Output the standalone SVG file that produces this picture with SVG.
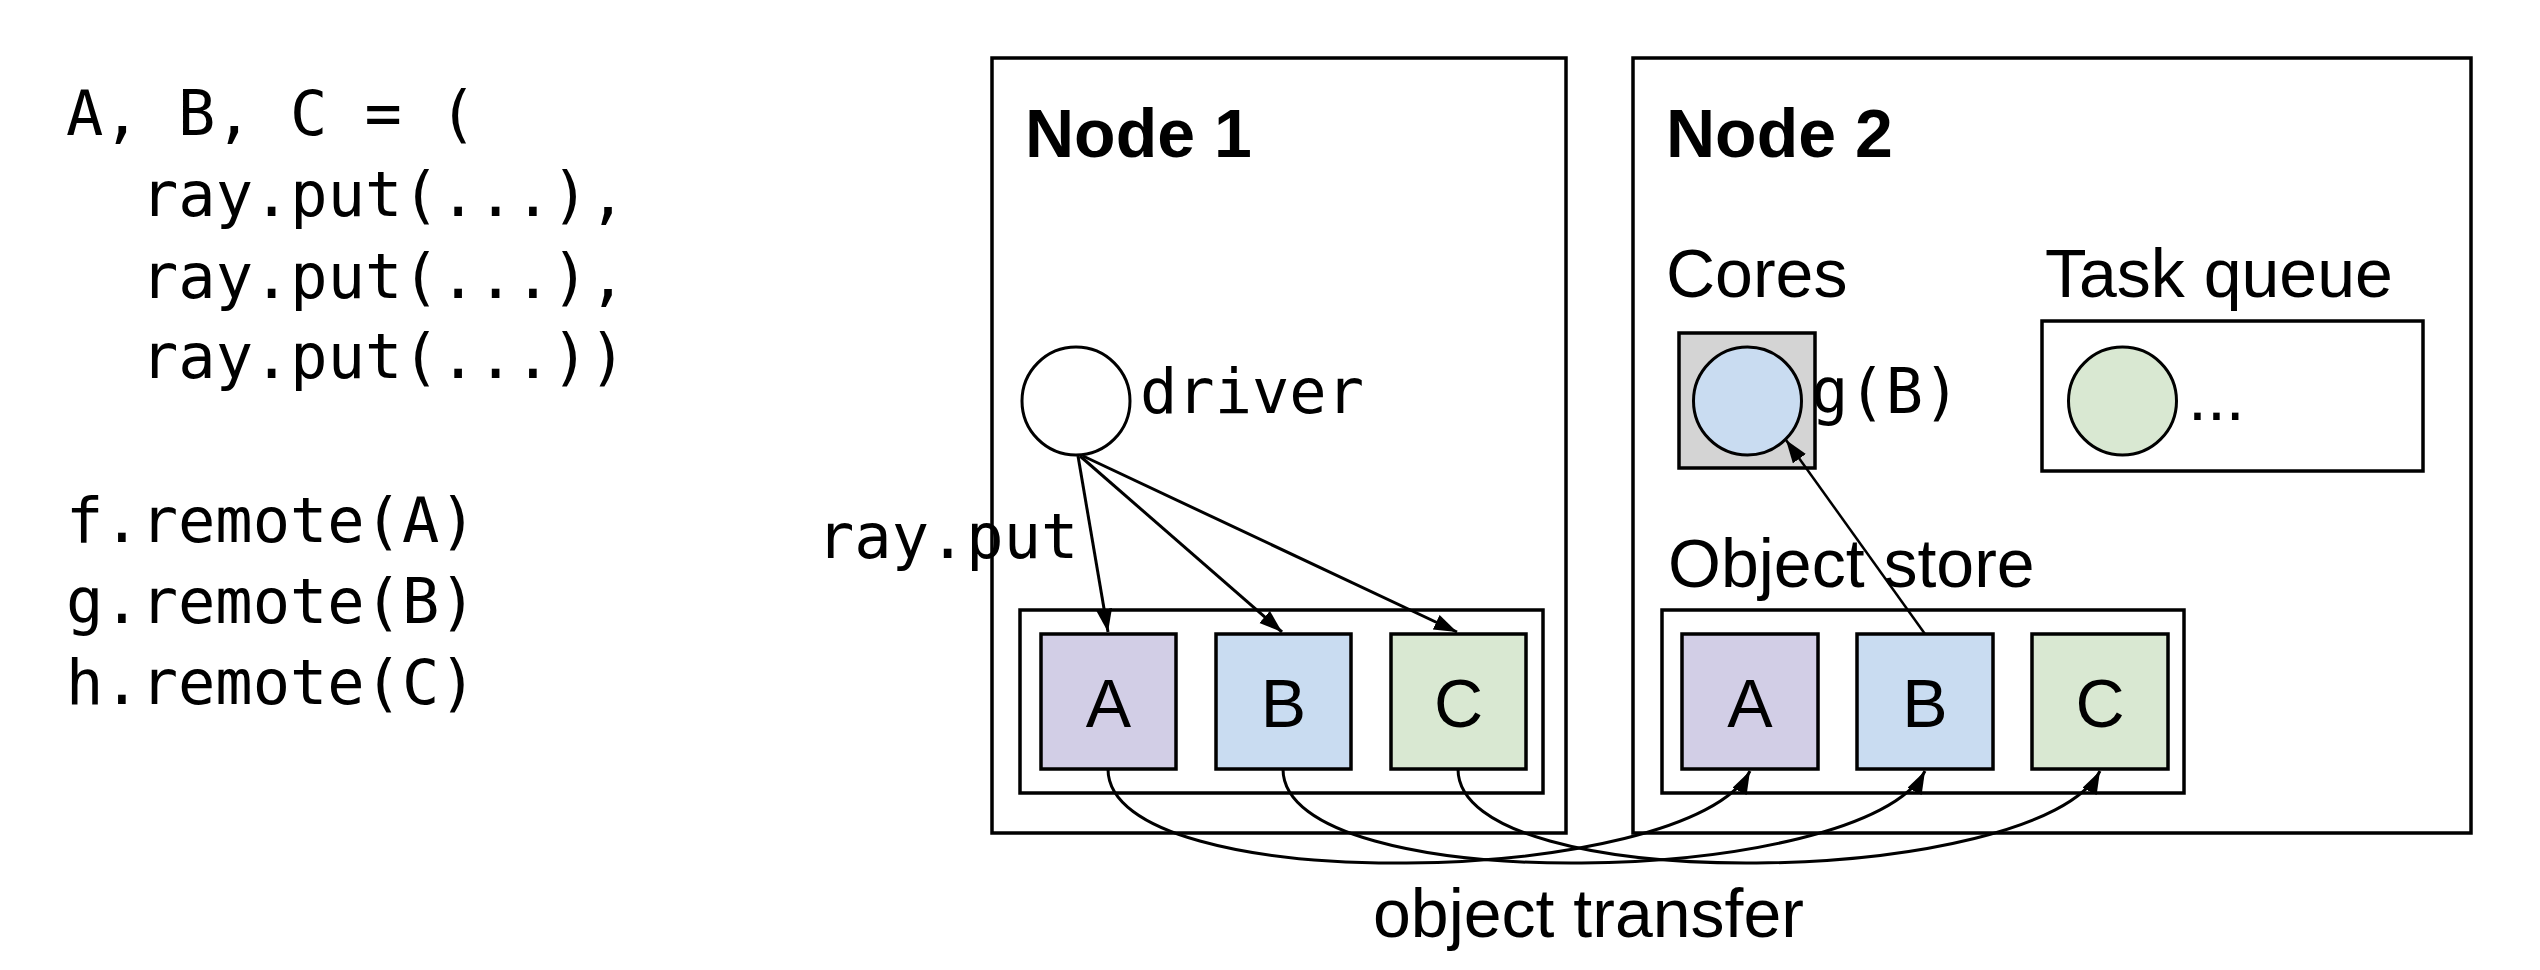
<svg xmlns="http://www.w3.org/2000/svg" width="2540" height="970" viewBox="0 0 2540 970">
<style>
.code{font-family:"DejaVu Sans Mono","Liberation Mono",monospace;font-size:62px;fill:#000}
.lbl{font-family:"Liberation Sans",Arial,sans-serif;font-size:68px;fill:#000}
.big{font-family:"Liberation Sans",Arial,sans-serif;font-size:68px;fill:#000}
.bold{font-family:"Liberation Sans",Arial,sans-serif;font-size:68px;font-weight:bold;fill:#000}
.box{fill:#fff;stroke:#000;stroke-width:3.5}
.a{fill:#d2cee6;stroke:#000;stroke-width:3.5}
.b{fill:#c9dcf1;stroke:#000;stroke-width:3.5}
.c{fill:#d9e8d2;stroke:#000;stroke-width:3.5}
.conn{fill:none;stroke:#000;stroke-width:3}
.thin{fill:none;stroke:#000;stroke-width:2.5}
</style>
<defs>
<marker id="arr" markerUnits="userSpaceOnUse" markerWidth="24" markerHeight="18" refX="23" refY="8" orient="auto">
<path d="M0,0 L23,8 L0,16 z" fill="#000"/>
</marker>
</defs>
<rect width="2540" height="970" fill="#fff"/>
<g id="code">
<text class="code" x="66" y="135">A, B, C = (</text>
<text class="code" x="141" y="216">ray.put(...),</text>
<text class="code" x="141" y="298">ray.put(...),</text>
<text class="code" x="141" y="378">ray.put(...))</text>
<text class="code" x="66" y="542">f.remote(A)</text>
<text class="code" x="66" y="623">g.remote(B)</text>
<text class="code" x="66" y="704">h.remote(C)</text>
</g>
<g id="node1">
<rect class="box" x="992" y="58" width="574" height="775"/>
<text class="bold" x="1025" y="157">Node 1</text>
</g>
<g id="driver">
<circle cx="1076" cy="401" r="54" fill="#fff" stroke="#000" stroke-width="3"/>
<text class="code" x="1140" y="413">driver</text>
</g>
<g id="rayput-label">
<text class="code" x="817" y="558">ray.put</text>
</g>
<g id="store1">
<rect class="box" x="1020" y="610" width="523" height="183"/>
<rect class="a" x="1041" y="634" width="135" height="135"/>
<rect class="b" x="1216" y="634" width="135" height="135"/>
<rect class="c" x="1391" y="634" width="135" height="135"/>
<text class="big" x="1108.5" y="727" text-anchor="middle">A</text>
<text class="big" x="1283.5" y="727" text-anchor="middle">B</text>
<text class="big" x="1458.5" y="727" text-anchor="middle">C</text>
</g>
<g id="node2">
<rect class="box" x="1633" y="58" width="838" height="775"/>
<text class="bold" x="1666" y="157">Node 2</text>
</g>
<g id="cores">
<text class="lbl" x="1666" y="297">Cores</text>
<rect x="1679" y="333" width="136" height="135" fill="#d4d4d4" stroke="#000" stroke-width="3.5"/>
<circle cx="1747.5" cy="401" r="54" fill="#c9dcf1" stroke="#000" stroke-width="3"/>
<text class="code" x="1811" y="413">g(B)</text>
</g>
<g id="taskqueue">
<text class="lbl" x="2045" y="297">Task queue</text>
<rect class="box" x="2042" y="321" width="381" height="150"/>
<circle cx="2122.5" cy="401" r="54" fill="#d9e8d2" stroke="#000" stroke-width="3"/>
<text class="lbl" x="2188" y="420">...</text>
</g>
<g id="store2">
<text class="lbl" x="1668" y="587">Object store</text>
<rect class="box" x="1662" y="610" width="522" height="183"/>
<rect class="a" x="1682" y="634" width="136" height="135"/>
<rect class="b" x="1857" y="634" width="136" height="135"/>
<rect class="c" x="2032" y="634" width="136" height="135"/>
<text class="big" x="1750" y="727" text-anchor="middle">A</text>
<text class="big" x="1925" y="727" text-anchor="middle">B</text>
<text class="big" x="2100" y="727" text-anchor="middle">C</text>
</g>
<g id="connectors">
<path class="conn" d="M1078,456 L1108,632" marker-end="url(#arr)"/>
<path class="conn" d="M1080,456 L1282,632" marker-end="url(#arr)"/>
<path class="conn" d="M1083,456 L1457,632" marker-end="url(#arr)"/>
<path class="thin" d="M1925,634 L1786,440" marker-end="url(#arr)"/>
<path class="conn" d="M1108,769 C1108,900 1690,888 1750,771" marker-end="url(#arr)"/>
<path class="conn" d="M1283,769 C1283,900 1865,888 1925,771" marker-end="url(#arr)"/>
<path class="conn" d="M1458,769 C1458,900 2040,888 2100,771" marker-end="url(#arr)"/>
</g>
<g id="transfer-label">
<text class="lbl" x="1373" y="937">object transfer</text>
</g>
</svg>
